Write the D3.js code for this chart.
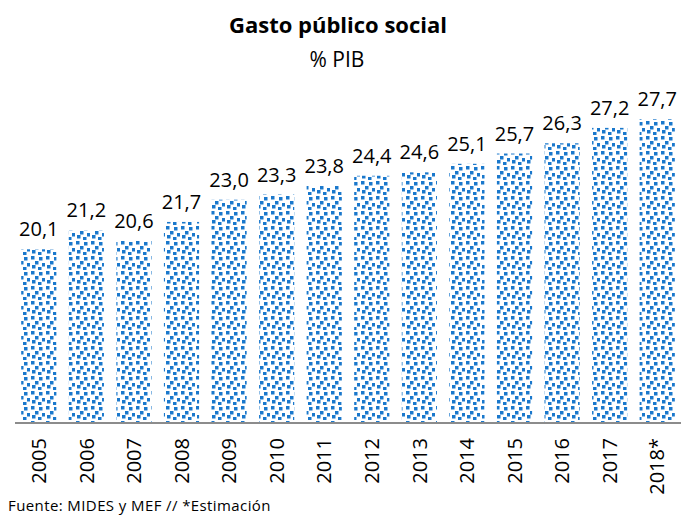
<!DOCTYPE html>
<html>
<head>
<meta charset="utf-8">
<script src="https://cdn.jsdelivr.net/npm/d3@7"></script>
<style>
  body { margin: 0; background: #fff; }
  text { font-family: "Open Sans", "Noto Sans", sans-serif; fill: #000; }
</style>
</head>
<body>
<div id="chart"></div>
<script>
const years = ["2005", "2006", "2007", "2008", "2009", "2010", "2011", "2012", "2013", "2014", "2015", "2016", "2017", "2018*"];
const gasto = [20.1, 21.2, 20.6, 21.7, 23.0, 23.3, 23.8, 24.4, 24.6, 25.1, 25.7, 26.3, 27.2, 27.7];
const yDomain = [10, 30];

const width = 681, height = 515;
const baseY = 422;

const svg = d3.select("#chart").append("svg")
    .attr("width", width)
    .attr("height", height);

// relleno tipo "confeti"
const pat = svg.append("defs").append("pattern")
    .attr("id", "confetti")
    .attr("patternUnits", "userSpaceOnUse")
    .attr("width", 15).attr("height", 15);
pat.append("rect").attr("width", 15).attr("height", 15).attr("fill", "#fff");
[[1, 1], [9, 2], [5, 6], [12, 8], [2, 10], [8, 12]].forEach(p => {
    pat.append("rect")
        .attr("x", p[0]).attr("y", p[1])
        .attr("width", 3.5).attr("height", 3.5)
        .attr("fill", "#1a78cc");
});

const x = d3.scaleBand()
    .domain(years)
    .range([15, 681])
    .paddingInner(0.26)
    .paddingOuter(0.13);

const y = d3.scaleLinear()
    .domain(yDomain)
    .range([baseY, 80]);

svg.append("g").selectAll("rect")
    .data(years).join("rect")
    .attr("x", d => x(d))
    .attr("width", x.bandwidth())
    .attr("y", (d, i) => y(gasto[i]))
    .attr("height", (d, i) => baseY - y(gasto[i]))
    .attr("fill", "url(#confetti)");

svg.append("g").selectAll("text")
    .data(years).join("text")
    .attr("x", d => x(d) + x.bandwidth() / 2)
    .attr("y", (d, i) => y(gasto[i]) - 13)
    .attr("text-anchor", "middle")
    .style("font-size", "20px")
    .text((d, i) => d3.format(".1f")(gasto[i]).replace(".", ","));

// eje
svg.append("line")
    .attr("x1", 15).attr("x2", 681)
    .attr("y1", baseY + 1).attr("y2", baseY + 1)
    .attr("stroke", "#8c8c8c")
    .attr("stroke-width", 2);

svg.append("g").selectAll("text")
    .data(years).join("text")
    .attr("transform", d => `translate(${x(d) + x.bandwidth() / 2},438) rotate(-90)`)
    .attr("text-anchor", "end")
    .attr("dy", "0.36em")
    .style("font-size", "20px")
    .text(d => d);

svg.append("text")
    .attr("x", 338).attr("y", 33)
    .attr("text-anchor", "middle")
    .style("font-size", "22px")
    .style("font-weight", "bold")
    .text("Gasto público social");

svg.append("text")
    .attr("x", 337).attr("y", 67)
    .attr("text-anchor", "middle")
    .style("font-size", "21px")
    .text("% PIB");

svg.append("text")
    .attr("x", 8).attr("y", 511)
    .style("font-size", "15px")
    .style("letter-spacing", "0.4px")
    .text("Fuente: MIDES y MEF // *Estimación");
</script>
</body>
</html>
